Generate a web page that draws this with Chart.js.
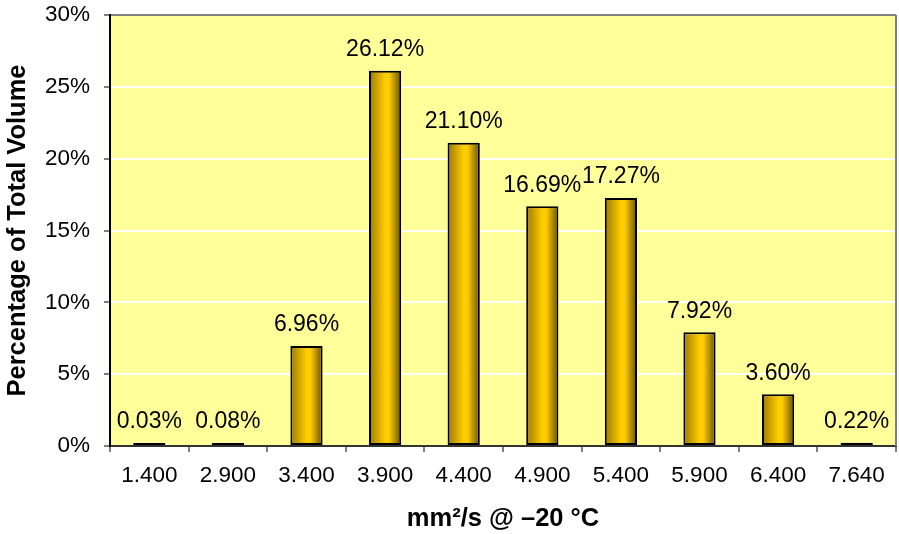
<!DOCTYPE html>
<html>
<head>
<meta charset="utf-8">
<script src="https://cdn.jsdelivr.net/npm/chart.js@4/dist/chart.umd.min.js"></script>
<style>
html,body{margin:0;padding:0;background:#fff;}
canvas{display:block;}
</style>
</head>
<body>
<canvas id="c" width="899" height="534"></canvas>
<script>
const categories = ['1.400','2.900','3.400','3.900','4.400','4.900','5.400','5.900','6.400','7.640'];
const values = [0.03, 0.08, 6.96, 26.12, 21.10, 16.69, 17.27, 7.92, 3.60, 0.22];
const yTicks = [0, 5, 10, 15, 20, 25, 30];
const xTitle = 'mm²/s @ –20 °C';
const yTitle = 'Percentage of Total Volume';

const FONT = "'Liberation Sans', Arial, sans-serif";
const BAR_PCT = 0.41;

function barGradient(ctx) {
  const chart = ctx.chart;
  const xs = chart.scales && chart.scales.x;
  if (!xs || ctx.dataIndex === undefined) return '#ffcc00';
  const cx = xs.getPixelForValue(ctx.dataIndex);
  const w = (xs.width / categories.length) * BAR_PCT;
  if (!isFinite(cx) || !isFinite(w) || w <= 0) return '#ffcc00';
  const g = chart.ctx.createLinearGradient(cx - w / 2, 0, cx + w / 2, 0);
  g.addColorStop(0, '#9a7a00');
  g.addColorStop(0.5, '#ffcc00');
  g.addColorStop(0.62, '#ffcc00');
  g.addColorStop(1, '#665000');
  return g;
}

const plotBg = {
  id: 'plotBg',
  beforeDraw(chart) {
    const {ctx, chartArea: a} = chart;
    ctx.save();
    ctx.fillStyle = '#ffff99';
    ctx.fillRect(a.left, a.top, a.right - a.left, a.bottom - a.top);
    ctx.restore();
  },
  afterDraw(chart) {
    const {ctx, chartArea: a} = chart;
    ctx.save();
    ctx.strokeStyle = '#808080';
    ctx.lineWidth = 2;
    ctx.beginPath();
    ctx.moveTo(a.right, a.top);
    ctx.lineTo(a.right, a.bottom);
    ctx.stroke();
    ctx.restore();
  }
};

const dataLabels = {
  id: 'dataLabels',
  afterDatasetsDraw(chart) {
    const {ctx} = chart;
    const meta = chart.getDatasetMeta(0);
    ctx.save();
    ctx.font = '23px ' + FONT;
    ctx.fillStyle = '#000';
    ctx.textAlign = 'center';
    ctx.textBaseline = 'middle';
    meta.data.forEach((bar, i) => {
      ctx.fillText(values[i].toFixed(2) + '%', bar.x, bar.y - 21);
    });
    ctx.restore();
  }
};

const chart = new Chart(document.getElementById('c'), {
  type: 'bar',
  data: {
    labels: categories,
    datasets: [{
      data: values,
      backgroundColor: barGradient,
      borderColor: '#000',
      borderWidth: 2,
      borderSkipped: false,
      minBarLength: 3,
      barPercentage: BAR_PCT,
      categoryPercentage: 1
    }]
  },
  options: {
    responsive: false,
    animation: false,
    events: [],
    layout: {padding: {top: 15, right: 3, left: 0, bottom: 0}},
    plugins: {legend: {display: false}, tooltip: {enabled: false}},
    scales: {
      x: {
        afterFit(s) { s.height = 88; s.paddingLeft = 0; s.paddingRight = 0; },
        grid: {display: true, drawOnChartArea: false, offset: true, tickLength: 6, tickColor: '#808080', lineWidth: 2},
        border: {display: true, color: '#333', width: 2},
        ticks: {color: '#000', font: {family: FONT, size: 22.5}, padding: 10, maxRotation: 0, autoSkip: false},
        title: {display: true, text: xTitle, color: '#000', font: {family: FONT, size: 25.5, weight: 'bold'}, padding: {top: 0, bottom: 0}}
      },
      y: {
        min: 0, max: 30,
        afterFit(s) { s.width = 110; s.paddingTop = 0; s.paddingBottom = 0; },
        afterBuildTicks(s) { s.ticks = yTicks.map(v => ({value: v})); },
        grid: {
          color: (c) => (c.tick && c.tick.value === 30) ? '#808080' : '#ffffff',
          lineWidth: 2, tickLength: 6, tickColor: '#808080'
        },
        border: {display: true, color: '#000', width: 2},
        ticks: {color: '#000', font: {family: FONT, size: 22.5}, padding: 14, callback: v => v + '%'},
        title: {display: true, text: yTitle, color: '#000', font: {family: FONT, size: 25.5, weight: 'bold'}, padding: {top: 3, bottom: 0}}
      }
    }
  },
  plugins: [plotBg, dataLabels]
});
chart.update();
</script>
</body>
</html>
